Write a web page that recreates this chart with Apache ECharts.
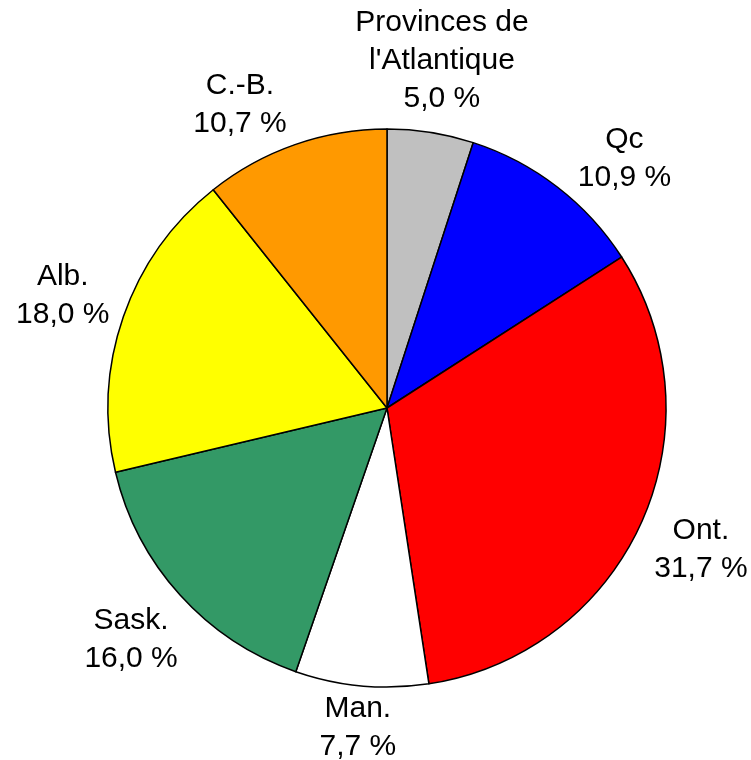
<!DOCTYPE html>
<html>
<head>
<meta charset="utf-8">
<script src="https://cdn.jsdelivr.net/npm/echarts@6/dist/echarts.min.js"></script>
<style>
html, body { margin: 0; padding: 0; background: #ffffff; }
#chart { width: 751px; height: 760px; }
</style>
</head>
<body>
<div id="chart"></div>
<script>
// Data
const categories = ["Provinces de\nl'Atlantique", "Qc", "Ont.", "Man.", "Sask.", "Alb.", "C.-B."];
const values = [5.0, 10.9, 31.7, 7.7, 16.0, 18.0, 10.7];

// Styles
const palette = ["#C0C0C0", "#0000FF", "#FF0000", "#FFFFFF", "#339966", "#FFFF00", "#FF9900"];
const CX = 387, CY = 408, R = 279;
const FONT_SIZE = 30, LINE_H = 38, FONT_FAMILY = "'Liberation Sans', Arial, sans-serif";
const W_WEIGHT = 1.17, H_WEIGHT = 1.0, GAP = 0, MIN_SEP = 206;

const total = values.reduce((a, b) => a + b, 0);
const cumStart = [];
values.reduce((acc, v, i) => { cumStart[i] = acc; return acc + v; }, 0);

function labelText(name, v) {
  return name + '\n' + v.toFixed(1).replace('.', ',') + ' %';
}

// measure label boxes
const mctx = document.createElement('canvas').getContext('2d');
mctx.font = FONT_SIZE + 'px ' + FONT_FAMILY;
const boxes = categories.map((c, i) => {
  const lines = labelText(c, values[i]).split('\n');
  return { w: Math.max(...lines.map(l => mctx.measureText(l).width)), h: lines.length * LINE_H };
});

function centerAt(i, ang) {
  const ux = Math.sin(ang), uy = -Math.cos(ang);
  const s = W_WEIGHT * boxes[i].w / 2 * Math.abs(ux) + H_WEIGHT * boxes[i].h / 2 * Math.abs(uy);
  const d = R + GAP + s;
  return { x: CX + d * ux, y: CY + d * uy };
}

// place labels: smaller slices first, later ones rotate away from conflicts
const labelPos = [];
const placed = [];
const order = values.map((v, i) => i).sort((a, b) => values[a] - values[b]);
order.forEach(i => {
  let ang = (cumStart[i] + values[i] / 2) / total * Math.PI * 2;
  let pos = centerAt(i, ang);
  for (let k = 0; k < 400; k++) {
    const hit = placed.find(j => Math.hypot(labelPos[j].x - pos.x, labelPos[j].y - pos.y) < MIN_SEP);
    if (hit === undefined) break;
    let diff = ang - labelPos[hit].ang;
    while (diff > Math.PI) diff -= 2 * Math.PI;
    while (diff < -Math.PI) diff += 2 * Math.PI;
    ang += (diff >= 0 ? 1 : -1) * Math.PI / 900;
    pos = centerAt(i, ang);
  }
  labelPos[i] = { x: pos.x, y: pos.y, ang: ang };
  placed.push(i);
});

const chart = echarts.init(document.getElementById('chart'), null, { renderer: 'canvas' });
chart.setOption({
  animation: false,
  backgroundColor: '#ffffff',
  color: palette,
  series: [{
    type: 'pie',
    center: [CX, CY],
    radius: R,
    startAngle: 90,
    clockwise: true,
    avoidLabelOverlap: false,
    emphasis: { disabled: true },
    itemStyle: { borderColor: '#000000', borderWidth: 1.5 },
    label: {
      show: true,
      position: 'outside',
      fontFamily: FONT_FAMILY,
      fontSize: FONT_SIZE,
      lineHeight: LINE_H,
      color: '#000000',
      align: 'center',
      formatter: p => labelText(p.name, p.value)
    },
    labelLine: { show: false },
    labelLayout: function (params) {
      const p = labelPos[params.dataIndex];
      return { x: p.x, y: p.y, align: 'center', verticalAlign: 'middle' };
    },
    data: categories.map((c, i) => ({ name: c, value: values[i] }))
  }]
});
</script>
</body>
</html>
